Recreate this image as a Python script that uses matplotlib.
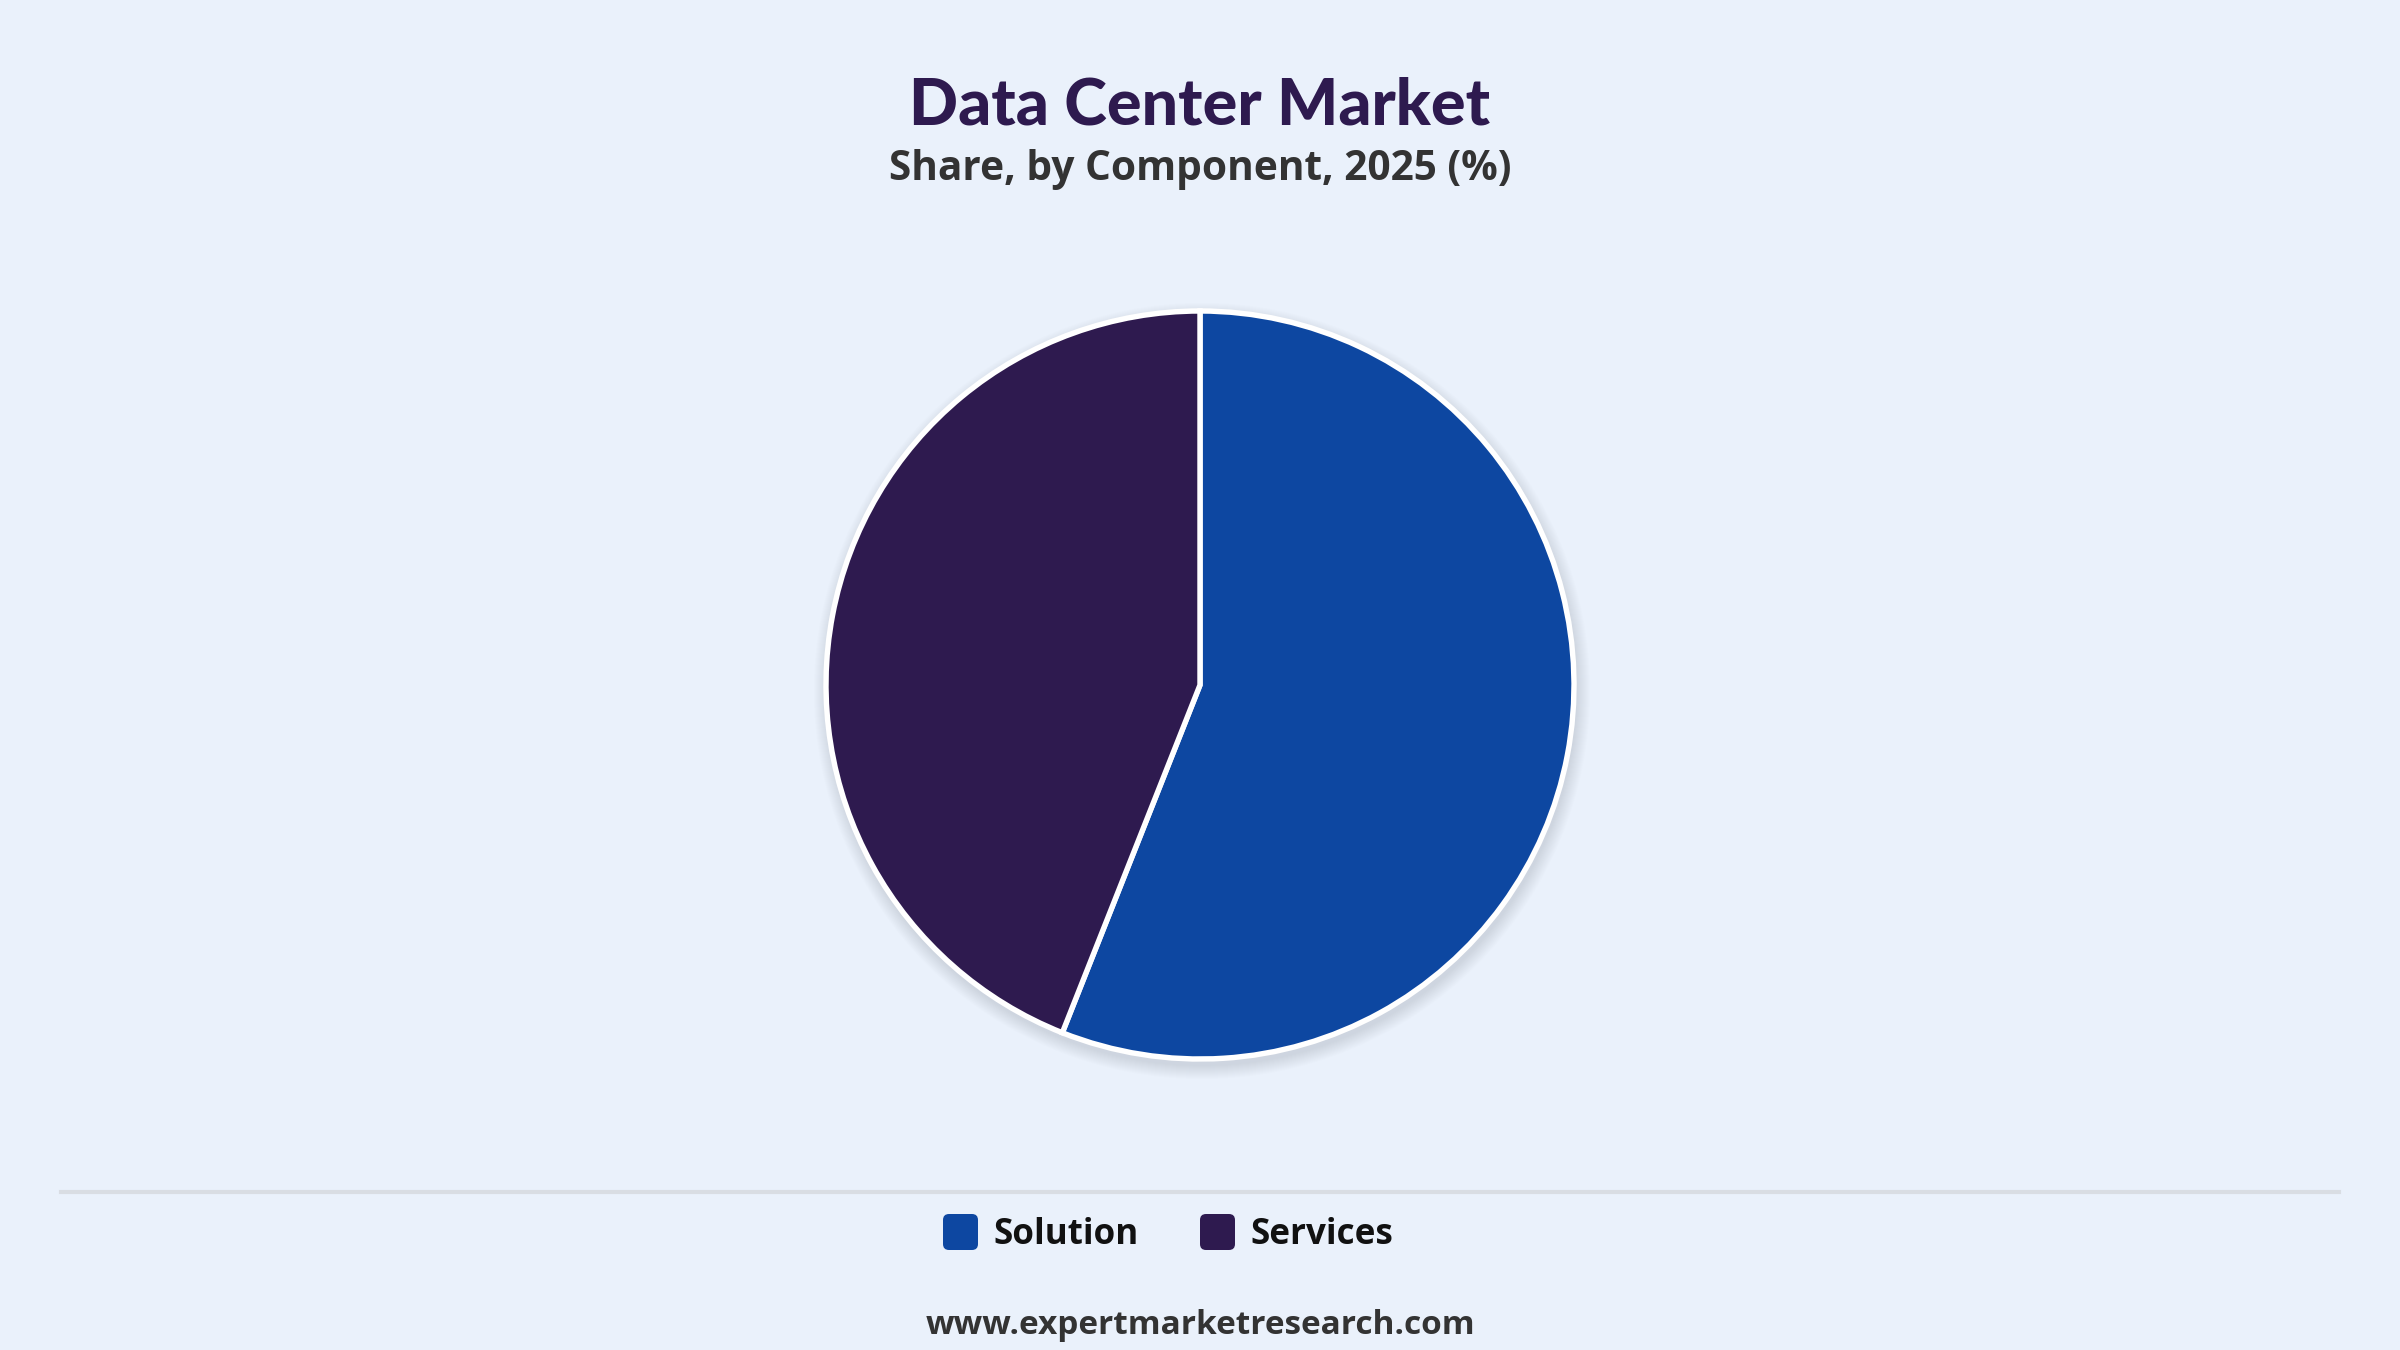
import matplotlib
matplotlib.use("Agg")
import matplotlib.pyplot as plt
from matplotlib.patches import FancyBboxPatch, Circle

categories = ["Solution", "Services"]
shares = [56, 44]
colors = ["#0D47A1", "#2E1A4F"]

title = "Data Center Market"
subtitle = "Share, by Component, 2025 (%)"
source = "www.expertmarketresearch.com"

BG = "#EAF1FB"
plt.rcParams['font.family'] = ['Open Sans', 'DejaVu Sans']

fig = plt.figure(figsize=(16, 9), dpi=150, facecolor=BG)
ax = fig.add_axes([0, 0, 1, 1])
ax.set_xlim(0, 2400)
ax.set_ylim(0, 1350)
ax.set_aspect('equal')
ax.axis('off')
ax.set_facecolor(BG)

cx, cy, R = 1200, 1350 - 685, 374

# soft shadow
for i in range(14):
    ax.add_patch(Circle((cx + 2, cy - 6), R + 14 - i, facecolor="#9aa6b8",
                        edgecolor='none', alpha=0.025, zorder=1))

ax.pie(shares, colors=colors, startangle=90, counterclock=False,
       center=(cx, cy), radius=R, frame=True,
       wedgeprops=dict(edgecolor='white', linewidth=2.6, zorder=2))
ax.set_xlim(0, 2400)
ax.set_ylim(0, 1350)
ax.axis('off')

fig.text(0.5, 1 - 106 / 1350, title, ha='center', va='center',
         fontsize=31, fontweight='black', color="#2E1A4F",
         family=['Lato', 'DejaVu Sans'])
fig.text(0.5, 1 - 170 / 1350, subtitle, ha='center', va='center',
         fontsize=19.5, fontweight='bold', color="#333333")

# separator
ax.plot([61, 2339], [1350 - 1192, 1350 - 1192], color="#D9DDE3", lw=2, zorder=3)

# legend
ly = 1350 - 1232
xs = [943, 1200]
for x0, lab, col in zip(xs, categories, colors):
    ax.add_patch(FancyBboxPatch((x0 + 3, ly - 15), 29, 30,
                                boxstyle="round,pad=3,rounding_size=6",
                                facecolor=col, edgecolor='none', zorder=3))
    ax.text(x0 + 50, ly - 3, lab, ha='left', va='center', fontsize=16.8,
            fontweight='bold', color="#111111")

fig.text(0.5, 1 - 1325 / 1350, source, ha='center', va='center',
         fontsize=16, fontweight='bold', color="#333333")

fig.savefig("out.png", dpi=150, facecolor=BG)
